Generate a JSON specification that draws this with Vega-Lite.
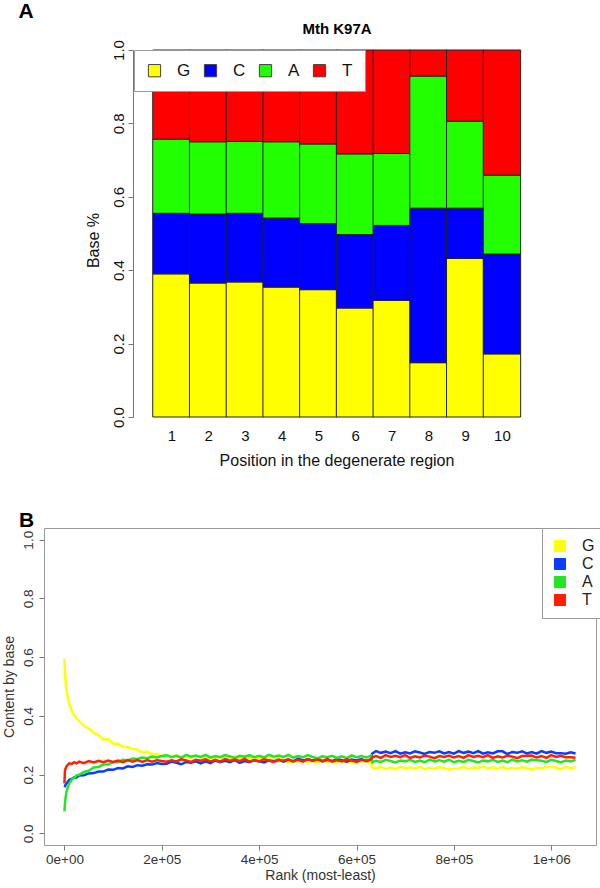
{
  "$schema": "https://vega.github.io/schema/vega-lite/v6.json",
  "background": "white",
  "padding": {"left": 1, "top": 0, "right": 0, "bottom": 0},
  "title": {"text": "A", "anchor": "start", "dx": 17, "fontSize": 21, "fontWeight": "bold", "baseline": "alphabetic", "offset": -17, "color": "#000"},
  "bounds": "flush",
  "spacing": 111,
  "resolve": {"scale": {"color": "independent"}, "legend": {"color": "independent"}},
  "config": {
    "font": "Liberation Sans",
    "view": {"stroke": null},
    "axis": {"grid": false, "labelFont": "Liberation Sans", "titleFont": "Liberation Sans", "titleFontWeight": "normal"},
    "legend": {"labelFont": "Liberation Sans"},
    "title": {"font": "Liberation Sans", "color": "#000"}
  },
  "datasets": {
    "bases": [
      {"pos": 1, "base": "G", "frac": 0.39}, {"pos": 1, "base": "C", "frac": 0.165}, {"pos": 1, "base": "A", "frac": 0.202}, {"pos": 1, "base": "T", "frac": 0.243},
      {"pos": 2, "base": "G", "frac": 0.365}, {"pos": 2, "base": "C", "frac": 0.188}, {"pos": 2, "base": "A", "frac": 0.197}, {"pos": 2, "base": "T", "frac": 0.25},
      {"pos": 3, "base": "G", "frac": 0.368}, {"pos": 3, "base": "C", "frac": 0.187}, {"pos": 3, "base": "A", "frac": 0.196}, {"pos": 3, "base": "T", "frac": 0.249},
      {"pos": 4, "base": "G", "frac": 0.354}, {"pos": 4, "base": "C", "frac": 0.188}, {"pos": 4, "base": "A", "frac": 0.208}, {"pos": 4, "base": "T", "frac": 0.25},
      {"pos": 5, "base": "G", "frac": 0.347}, {"pos": 5, "base": "C", "frac": 0.18}, {"pos": 5, "base": "A", "frac": 0.217}, {"pos": 5, "base": "T", "frac": 0.256},
      {"pos": 6, "base": "G", "frac": 0.297}, {"pos": 6, "base": "C", "frac": 0.2}, {"pos": 6, "base": "A", "frac": 0.22}, {"pos": 6, "base": "T", "frac": 0.283},
      {"pos": 7, "base": "G", "frac": 0.318}, {"pos": 7, "base": "C", "frac": 0.204}, {"pos": 7, "base": "A", "frac": 0.196}, {"pos": 7, "base": "T", "frac": 0.282},
      {"pos": 8, "base": "G", "frac": 0.148}, {"pos": 8, "base": "C", "frac": 0.421}, {"pos": 8, "base": "A", "frac": 0.36}, {"pos": 8, "base": "T", "frac": 0.071},
      {"pos": 9, "base": "G", "frac": 0.432}, {"pos": 9, "base": "C", "frac": 0.137}, {"pos": 9, "base": "A", "frac": 0.237}, {"pos": 9, "base": "T", "frac": 0.194},
      {"pos": 10, "base": "G", "frac": 0.172}, {"pos": 10, "base": "C", "frac": 0.272}, {"pos": 10, "base": "A", "frac": 0.215}, {"pos": 10, "base": "T", "frac": 0.341}
    ],
    "rank": [
      {"r":0,"G":0.595,"C":0.157,"A":0.075,"T":0.170},
      {"r":1000,"G":0.552,"C":0.160,"A":0.100,"T":0.212},
      {"r":2500,"G":0.512,"C":0.166,"A":0.124,"T":0.222},
      {"r":5000,"G":0.478,"C":0.171,"A":0.147,"T":0.230},
      {"r":7500,"G":0.458,"C":0.177,"A":0.160,"T":0.234},
      {"r":10000,"G":0.440,"C":0.182,"A":0.170,"T":0.238},
      {"r":15000,"G":0.417,"C":0.185,"A":0.183,"T":0.236},
      {"r":20000,"G":0.402,"C":0.191,"A":0.189,"T":0.242},
      {"r":25000,"G":0.391,"C":0.190,"A":0.197,"T":0.238},
      {"r":30000,"G":0.383,"C":0.197,"A":0.199,"T":0.244},
      {"r":40000,"G":0.366,"C":0.198,"A":0.209,"T":0.239},
      {"r":50000,"G":0.357,"C":0.204,"A":0.213,"T":0.246},
      {"r":60000,"G":0.343,"C":0.205,"A":0.224,"T":0.241},
      {"r":70000,"G":0.335,"C":0.210,"A":0.226,"T":0.247},
      {"r":80000,"G":0.320,"C":0.210,"A":0.234,"T":0.242},
      {"r":90000,"G":0.320,"C":0.217,"A":0.234,"T":0.248},
      {"r":100000,"G":0.306,"C":0.216,"A":0.242,"T":0.243},
      {"r":110000,"G":0.304,"C":0.222,"A":0.242,"T":0.248},
      {"r":120000,"G":0.295,"C":0.221,"A":0.250,"T":0.242},
      {"r":130000,"G":0.294,"C":0.228,"A":0.248,"T":0.249},
      {"r":140000,"G":0.287,"C":0.226,"A":0.255,"T":0.244},
      {"r":150000,"G":0.285,"C":0.232,"A":0.253,"T":0.249},
      {"r":160000,"G":0.276,"C":0.230,"A":0.258,"T":0.243},
      {"r":170000,"G":0.278,"C":0.235,"A":0.256,"T":0.249},
      {"r":180000,"G":0.268,"C":0.234,"A":0.261,"T":0.244},
      {"r":190000,"G":0.270,"C":0.239,"A":0.258,"T":0.249},
      {"r":200000,"G":0.262,"C":0.236,"A":0.263,"T":0.246},
      {"r":210000,"G":0.265,"C":0.237,"A":0.266,"T":0.244},
      {"r":220000,"G":0.260,"C":0.244,"A":0.259,"T":0.249},
      {"r":230000,"G":0.266,"C":0.240,"A":0.264,"T":0.245},
      {"r":240000,"G":0.257,"C":0.235,"A":0.258,"T":0.252},
      {"r":250000,"G":0.261,"C":0.243,"A":0.267,"T":0.248},
      {"r":260000,"G":0.257,"C":0.240,"A":0.261,"T":0.243},
      {"r":270000,"G":0.263,"C":0.245,"A":0.265,"T":0.250},
      {"r":280000,"G":0.259,"C":0.238,"A":0.260,"T":0.247},
      {"r":290000,"G":0.253,"C":0.245,"A":0.267,"T":0.252},
      {"r":300000,"G":0.260,"C":0.239,"A":0.258,"T":0.245},
      {"r":310000,"G":0.256,"C":0.248,"A":0.263,"T":0.250},
      {"r":320000,"G":0.261,"C":0.242,"A":0.259,"T":0.244},
      {"r":330000,"G":0.253,"C":0.247,"A":0.266,"T":0.253},
      {"r":340000,"G":0.258,"C":0.242,"A":0.262,"T":0.247},
      {"r":350000,"G":0.251,"C":0.249,"A":0.257,"T":0.251},
      {"r":360000,"G":0.260,"C":0.240,"A":0.264,"T":0.246},
      {"r":370000,"G":0.253,"C":0.246,"A":0.261,"T":0.253},
      {"r":380000,"G":0.257,"C":0.242,"A":0.266,"T":0.244},
      {"r":390000,"G":0.251,"C":0.249,"A":0.259,"T":0.249},
      {"r":400000,"G":0.258,"C":0.245,"A":0.264,"T":0.245},
      {"r":410000,"G":0.249,"C":0.241,"A":0.258,"T":0.252},
      {"r":420000,"G":0.253,"C":0.248,"A":0.267,"T":0.248},
      {"r":430000,"G":0.249,"C":0.245,"A":0.261,"T":0.243},
      {"r":440000,"G":0.255,"C":0.250,"A":0.265,"T":0.250},
      {"r":450000,"G":0.250,"C":0.244,"A":0.260,"T":0.247},
      {"r":460000,"G":0.240,"C":0.251,"A":0.267,"T":0.252},
      {"r":470000,"G":0.247,"C":0.245,"A":0.258,"T":0.245},
      {"r":480000,"G":0.244,"C":0.254,"A":0.263,"T":0.250},
      {"r":490000,"G":0.249,"C":0.248,"A":0.259,"T":0.244},
      {"r":500000,"G":0.242,"C":0.252,"A":0.266,"T":0.253},
      {"r":510000,"G":0.247,"C":0.247,"A":0.260,"T":0.247},
      {"r":520000,"G":0.240,"C":0.254,"A":0.255,"T":0.251},
      {"r":530000,"G":0.249,"C":0.245,"A":0.262,"T":0.246},
      {"r":540000,"G":0.243,"C":0.250,"A":0.259,"T":0.253},
      {"r":550000,"G":0.247,"C":0.246,"A":0.264,"T":0.244},
      {"r":560000,"G":0.242,"C":0.253,"A":0.257,"T":0.249},
      {"r":570000,"G":0.249,"C":0.249,"A":0.262,"T":0.245},
      {"r":580000,"G":0.239,"C":0.244,"A":0.256,"T":0.252},
      {"r":590000,"G":0.244,"C":0.251,"A":0.265,"T":0.248},
      {"r":600000,"G":0.240,"C":0.248,"A":0.259,"T":0.243},
      {"r":610000,"G":0.247,"C":0.253,"A":0.263,"T":0.250},
      {"r":620000,"G":0.243,"C":0.246,"A":0.258,"T":0.247},
      {"r":630000,"G":0.238,"C":0.251,"A":0.265,"T":0.252},
      {"r":632000,"G":0.224,"C":0.271,"A":0.242,"T":0.258},
      {"r":640000,"G":0.221,"C":0.280,"A":0.247,"T":0.263},
      {"r":650000,"G":0.226,"C":0.274,"A":0.243,"T":0.257},
      {"r":660000,"G":0.219,"C":0.278,"A":0.250,"T":0.266},
      {"r":670000,"G":0.224,"C":0.273,"A":0.246,"T":0.260},
      {"r":680000,"G":0.218,"C":0.280,"A":0.241,"T":0.264},
      {"r":690000,"G":0.227,"C":0.271,"A":0.248,"T":0.259},
      {"r":700000,"G":0.221,"C":0.276,"A":0.245,"T":0.266},
      {"r":710000,"G":0.225,"C":0.272,"A":0.250,"T":0.257},
      {"r":720000,"G":0.220,"C":0.279,"A":0.243,"T":0.262},
      {"r":730000,"G":0.227,"C":0.275,"A":0.248,"T":0.258},
      {"r":740000,"G":0.218,"C":0.270,"A":0.242,"T":0.265},
      {"r":750000,"G":0.223,"C":0.277,"A":0.251,"T":0.261},
      {"r":760000,"G":0.219,"C":0.274,"A":0.245,"T":0.256},
      {"r":770000,"G":0.226,"C":0.279,"A":0.249,"T":0.263},
      {"r":780000,"G":0.222,"C":0.272,"A":0.244,"T":0.260},
      {"r":790000,"G":0.217,"C":0.277,"A":0.251,"T":0.265},
      {"r":800000,"G":0.220,"C":0.271,"A":0.242,"T":0.258},
      {"r":810000,"G":0.221,"C":0.280,"A":0.247,"T":0.263},
      {"r":820000,"G":0.226,"C":0.274,"A":0.243,"T":0.257},
      {"r":830000,"G":0.219,"C":0.278,"A":0.250,"T":0.266},
      {"r":840000,"G":0.224,"C":0.273,"A":0.246,"T":0.260},
      {"r":850000,"G":0.223,"C":0.280,"A":0.241,"T":0.264},
      {"r":860000,"G":0.227,"C":0.271,"A":0.248,"T":0.259},
      {"r":870000,"G":0.221,"C":0.276,"A":0.245,"T":0.266},
      {"r":880000,"G":0.225,"C":0.272,"A":0.250,"T":0.257},
      {"r":890000,"G":0.220,"C":0.279,"A":0.243,"T":0.262},
      {"r":900000,"G":0.227,"C":0.279,"A":0.248,"T":0.258},
      {"r":910000,"G":0.218,"C":0.270,"A":0.242,"T":0.265},
      {"r":920000,"G":0.223,"C":0.277,"A":0.251,"T":0.261},
      {"r":930000,"G":0.219,"C":0.274,"A":0.245,"T":0.256},
      {"r":940000,"G":0.226,"C":0.279,"A":0.249,"T":0.263},
      {"r":950000,"G":0.222,"C":0.272,"A":0.244,"T":0.264},
      {"r":960000,"G":0.217,"C":0.277,"A":0.251,"T":0.265},
      {"r":970000,"G":0.224,"C":0.271,"A":0.249,"T":0.258},
      {"r":980000,"G":0.221,"C":0.280,"A":0.247,"T":0.263},
      {"r":990000,"G":0.226,"C":0.274,"A":0.243,"T":0.257},
      {"r":1000000,"G":0.226,"C":0.278,"A":0.250,"T":0.266},
      {"r":1010000,"G":0.224,"C":0.273,"A":0.246,"T":0.260},
      {"r":1020000,"G":0.218,"C":0.273,"A":0.241,"T":0.264},
      {"r":1030000,"G":0.227,"C":0.271,"A":0.248,"T":0.259},
      {"r":1040000,"G":0.221,"C":0.276,"A":0.245,"T":0.259},
      {"r":1050000,"G":0.225,"C":0.272,"A":0.250,"T":0.257}
    ]
  },
  "vconcat": [
    {
      "width": 552,
      "height": 367,
      "title": {"text": "Mth K97A", "fontSize": 15, "fontWeight": "bold", "anchor": "middle", "dx": 17, "baseline": "alphabetic", "offset": -9, "color": "#000"},
      "data": {"name": "bases"},
      "transform": [{"calculate": "indexof(['G','C','A','T'], datum.base)", "as": "ord"}],
      "mark": {"type": "bar", "width": 37.4, "stroke": "#222", "strokeWidth": 1},
      "encoding": {
        "x": {
          "field": "pos", "type": "quantitative",
          "scale": {"domain": [-2.334, 12.425], "nice": false, "zero": false},
          "axis": {"values": [1, 2, 3, 4, 5, 6, 7, 8, 9, 10], "format": "d", "labelAngle": 0, "domain": false, "ticks": false, "labelFontSize": 15, "labelColor": "#111", "labelPadding": 11,
                   "title": "Position in the degenerate region", "titleFontSize": 16, "titleColor": "#111", "titlePadding": 9, "titleX": 292.5}
        },
        "y": {
          "field": "frac", "type": "quantitative", "stack": "zero",
          "scale": {"domain": [0, 1], "nice": false},
          "axis": {"offset": -89, "zindex": 1, "values": [0, 0.2, 0.4, 0.6, 0.8, 1], "format": ".1f", "labelAngle": -90, "labelAlign": "center", "labelBaseline": "bottom",
                   "domainColor": "#777", "tickColor": "#777", "tickSize": 5, "labelFontSize": 15, "labelColor": "#111", "labelPadding": 2,
                   "title": "Base %", "titleFontSize": 16, "titleColor": "#111", "titlePadding": 10, "titleY": 190}
        },
        "color": {
          "field": "base", "type": "nominal",
          "scale": {"domain": ["G", "C", "A", "T"], "range": ["#FFFF00", "#0000FF", "#22FF00", "#FF0000"]},
          "legend": {"orient": "none", "legendX": 90, "legendY": 0, "direction": "horizontal", "title": null,
                     "fillColor": "white", "strokeColor": "#999", "padding": 12,
                     "symbolType": "square", "symbolSize": 150, "symbolStrokeColor": "#444", "symbolStrokeWidth": 1,
                     "labelFontSize": 17, "labelColor": "#111", "labelOffset": 14, "columnPadding": 11}
        },
        "order": {"field": "ord", "type": "quantitative"}
      }
    },
    {
      "width": 552,
      "height": 317,
      "view": {"stroke": "#999", "strokeWidth": 1},
      "title": {"text": "B", "anchor": "start", "frame": "group", "dx": -25, "fontSize": 21, "fontWeight": "bold", "baseline": "alphabetic", "offset": -20, "color": "#000"},
      "data": {"name": "rank"},
      "transform": [{"fold": ["G", "C", "A", "T"], "as": ["base", "v"]}],
      "mark": {"type": "line", "strokeWidth": 2.5},
      "encoding": {
        "x": {
          "field": "r", "type": "quantitative",
          "scale": {"domain": [-42000, 1092000], "nice": false, "zero": false},
          "axis": {"values": [0, 200000, 400000, 600000, 800000, 1000000],
                   "labelExpr": "['0e+00','2e+05','4e+05','6e+05','8e+05','1e+06'][round(datum.value/200000)]",
                   "domain": false, "tickSize": 5, "tickColor": "#777", "labelFontSize": 13.5, "labelColor": "#333", "labelPadding": 2,
                   "title": "Rank (most-least)", "titleFontSize": 14, "titleColor": "#333", "titlePadding": 3}
        },
        "y": {
          "field": "v", "type": "quantitative",
          "scale": {"domain": [-0.04, 1.04], "nice": false, "zero": false},
          "axis": {"values": [0, 0.2, 0.4, 0.6, 0.8, 1], "format": ".1f", "labelAngle": -90, "labelAlign": "center", "labelBaseline": "bottom",
                   "domain": false, "tickSize": 5, "tickColor": "#777", "labelFontSize": 13.5, "labelColor": "#333", "labelPadding": 4,
                   "title": "Content by base", "titleFontSize": 14, "titleColor": "#333", "titlePadding": 5}
        },
        "color": {
          "field": "base", "type": "nominal",
          "scale": {"domain": ["G", "C", "A", "T"], "range": ["#FFFF00", "#0A3CFF", "#22E622", "#FF2000"]},
          "legend": {"orient": "none", "legendX": 498, "legendY": 0, "direction": "vertical", "title": null,
                     "fillColor": "white", "strokeColor": "#999", "padding": 10,
                     "symbolType": "square", "symbolSize": 121, "symbolStrokeWidth": 1,
                     "labelFontSize": 16, "labelColor": "#222", "labelOffset": 14, "rowPadding": 2,
                     "encode": {"symbols": {"update": {"fill": {"scale": "concat_1_color", "field": "value"}, "stroke": {"value": "#888"}, "opacity": {"value": 1}}}}}
        }
      }
    }
  ]
}
